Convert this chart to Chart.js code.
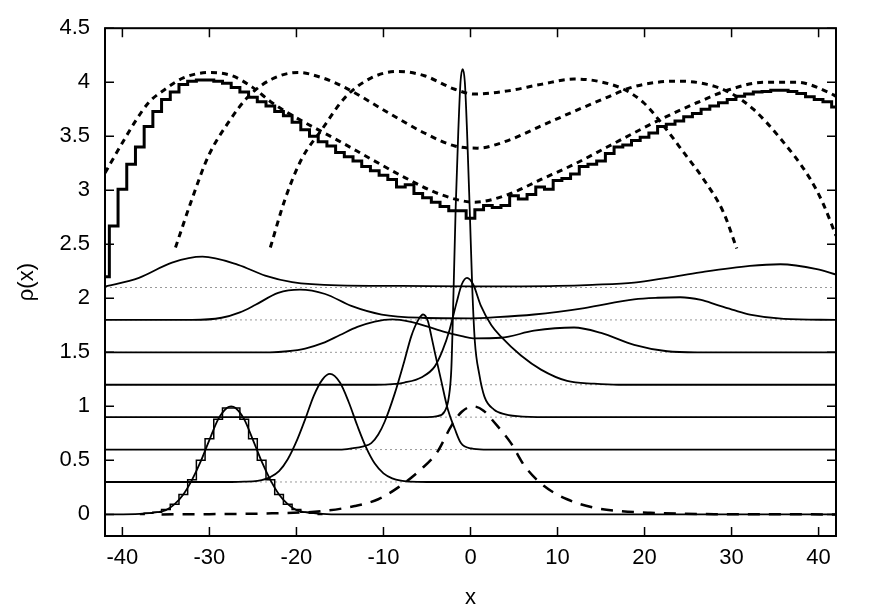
<!DOCTYPE html>
<html>
<head>
<meta charset="utf-8">
<script src="https://cdn.jsdelivr.net/npm/chart.js@4.4.1/dist/chart.umd.min.js"></script>
<style>
  html, body { margin: 0; padding: 0; background: #fff; }
  canvas { display: block; }
</style>
</head>
<body>
<canvas id="chart" width="880" height="615"></canvas>
<script>
// axis ticks
const xTicks = [-40, -30, -20, -10, 0, 10, 20, 30, 40];
const yTicks = [0, 0.5, 1, 1.5, 2, 2.5, 3, 3.5, 4, 4.5];

// thick histogram, bins of width 1 centred on -42 .. 42
const histX = [-42, -41, -40, -39, -38, -37, -36, -35, -34, -33, -32, -31, -30, -29, -28, -27, -26, -25, -24, -23, -22,
  -21, -20, -19, -18, -17, -16, -15, -14, -13, -12, -11, -10, -9, -8, -7, -6, -5, -4, -3, -2, -1, 0,
  1, 2, 3, 4, 5, 6, 7, 8, 9, 10, 11, 12, 13, 14, 15, 16, 17, 18, 19, 20, 21,
  22, 23, 24, 25, 26, 27, 28, 29, 30, 31, 32, 33, 34, 35, 36, 37, 38, 39, 40, 41, 42];
const histY = [2.20, 2.67, 3.01, 3.24, 3.40, 3.59, 3.73, 3.84, 3.91, 3.98, 4.01, 4.02, 4.02, 4.01, 3.99, 3.95, 3.91, 3.86, 3.82, 3.78, 3.73,
  3.69, 3.63, 3.56, 3.50, 3.45, 3.41, 3.35, 3.31, 3.27, 3.22, 3.18, 3.14, 3.10, 3.03, 3.05, 2.97, 2.93, 2.89, 2.85, 2.81, 2.81, 2.74,
  2.82, 2.86, 2.84, 2.86, 2.95, 2.92, 2.96, 3.03, 3.01, 3.09, 3.11, 3.15, 3.22, 3.24, 3.27, 3.34, 3.40, 3.42, 3.46, 3.49, 3.53,
  3.59, 3.61, 3.64, 3.68, 3.71, 3.75, 3.78, 3.81, 3.84, 3.87, 3.89, 3.91, 3.915, 3.925, 3.925, 3.915, 3.895, 3.865, 3.84, 3.82, 3.77];

// dotted curves
const d1X = [-42, -40, -38.5, -37, -35, -33, -30, -27.4, -25, -22.8, -20.2, -15.2, -11, -7.6, -3.4, 0.5, 4.3, 8.1, 11.9, 15.7, 19.6, 22.2, 26, 29.9, 33.7, 37.5, 41.3, 42];
const d1Y = [3.16, 3.44, 3.64, 3.81, 3.94, 4.04, 4.09, 4.06, 3.95, 3.81, 3.68, 3.46, 3.27, 3.12, 2.96, 2.89, 2.96, 3.10, 3.24, 3.40, 3.565, 3.67, 3.81, 3.935, 4.0, 4.0, 3.90, 3.87];
const d2X = [-33.9, -32, -30.1, -27.8, -25.5, -22.8, -19.8, -17, -14.4, -9.5, -5.3, -1.8, 0.8, 4.3, 8.1, 11.9, 15.7, 18.4, 21.5, 24.1, 27.2, 29.9, 32.5, 35.6, 39, 40.5, 42];
const d2Y = [2.47, 2.92, 3.32, 3.63, 3.87, 4.03, 4.09, 4.04, 3.95, 3.72, 3.53, 3.41, 3.39, 3.46, 3.595, 3.73, 3.86, 3.95, 4.0, 4.01, 3.98, 3.90, 3.75, 3.48, 3.11, 2.88, 2.58];
const d3X = [-23, -21.3, -19.4, -17.1, -14.4, -11.4, -8.3, -5.3, -1.8, 0.5, 4.3, 8.1, 11.9, 14.6, 17.6, 19.9, 22.2, 24.5, 26.8, 29.1, 30.6];
const d3Y = [2.47, 2.92, 3.29, 3.56, 3.86, 4.04, 4.10, 4.06, 3.935, 3.89, 3.92, 3.98, 4.03, 4.01, 3.935, 3.81, 3.595, 3.35, 3.10, 2.79, 2.46];

// stacked profiles (offsets 0, 0.3, ..., 2.1)
const offsets = [0.3, 0.6, 0.9, 1.2, 1.5, 1.8, 2.1];
const p0X = [-42, -38, -36, -35, -34, -33, -32, -31, -30, -29, -28, -27.5, -27, -26, -25, -24, -23, -22, -21, -20, -19, -17, -15, 42];
const p0Y = [0, 0.005, 0.02, 0.04, 0.095, 0.185, 0.32, 0.49, 0.69, 0.88, 0.985, 1.0, 0.985, 0.88, 0.69, 0.49, 0.32, 0.185, 0.095, 0.04, 0.02, 0.005, 0, 0];
const p3X = [-42, -28, -26, -25, -24, -23, -22, -21, -20, -19, -18, -17, -16.15, -15, -14, -13, -12, -11, -10, -9, -8, -7, -5, 42];
const p3Y = [0.3, 0.3, 0.303, 0.305, 0.317, 0.345, 0.40, 0.51, 0.675, 0.88, 1.10, 1.25, 1.30, 1.22, 1.04, 0.82, 0.62, 0.47, 0.38, 0.334, 0.312, 0.304, 0.3, 0.3];
const p6X = [-42, -15, -13.7, -12.3, -11.4, -10.6, -9.85, -8.7, -7.6, -6.8, -6.0, -5.45, -4.9, -4.5, -4.1, -3.4, -2.6, -1.8, -1.1, 0.1, 1.5, 42];
const p6Y = [0.6, 0.6, 0.61, 0.63, 0.66, 0.74, 0.86, 1.12, 1.42, 1.65, 1.80, 1.85, 1.79, 1.65, 1.50, 1.25, 0.97, 0.79, 0.66, 0.61, 0.6, 0.6];
const p9X = [-42, -5, -3.8, -3.0, -2.5, -2.2, -2.0, -1.7, -1.4, -1.15, -0.9, -0.65, -0.4, -0.1, 0.2, 0.5, 1.0, 1.6, 2.7, 4, 6, 10, 42];
const p9Y = [0.9, 0.9, 0.91, 0.95, 1.08, 1.35, 1.9, 2.85, 3.55, 4.0, 4.12, 4.0, 3.55, 2.85, 2.1, 1.6, 1.3, 1.09, 0.97, 0.925, 0.905, 0.9, 0.9];
const p12X = [-42, -11, -9, -7.6, -5.6, -4.1, -3.2, -2.4, -1.6, -1.0, -0.4, 0.3, 1.2, 2.4, 3.5, 5.8, 8.1, 11.1, 14.2, 17, 42];
const p12Y = [1.2, 1.2, 1.205, 1.22, 1.27, 1.37, 1.52, 1.71, 1.96, 2.13, 2.19, 2.13, 1.93, 1.75, 1.645, 1.47, 1.34, 1.235, 1.21, 1.2, 1.2];
const p15X = [-42, -23, -21, -19, -17, -15, -13, -11, -9, -7, -5, -3, -1, 0.3, 3.5, 7.3, 11.9, 15, 18.8, 22.6, 26, 42];
const p15Y = [1.5, 1.5, 1.51, 1.535, 1.585, 1.66, 1.735, 1.785, 1.805, 1.785, 1.74, 1.69, 1.65, 1.63, 1.635, 1.70, 1.73, 1.68, 1.57, 1.51, 1.5, 1.5];
const p18X = [-42, -32, -28.6, -26.5, -24.7, -22.1, -19.6, -16.7, -13.7, -10.2, -5.6, 0, 3, 7.3, 13.1, 18.8, 21.5, 24.1, 26.5, 28.3, 30.3, 32.1, 36, 42];
const p18Y = [1.80, 1.80, 1.82, 1.87, 1.94, 2.05, 2.08, 2.04, 1.93, 1.85, 1.82, 1.815, 1.825, 1.85, 1.91, 1.99, 2.005, 2.01, 1.985, 1.94, 1.89, 1.85, 1.81, 1.80];
const p21X = [-42, -41.4, -38.1, -34.3, -30.8, -26.7, -23.6, -20.5, -15.2, -8, 0, 10, 14, 18.8, 22.6, 26.4, 32.1, 35.6, 39.8, 42];
const p21Y = [2.11, 2.12, 2.19, 2.33, 2.385, 2.31, 2.21, 2.15, 2.12, 2.115, 2.11, 2.115, 2.125, 2.145, 2.19, 2.24, 2.30, 2.315, 2.27, 2.22];

// thin histogram over the first profile
const smallHistX = [-38, -37, -36, -35, -34, -33, -32, -31, -30, -29, -28, -27, -26, -25, -24, -23, -22, -21, -20, -19, -18, -17];
const smallHistY = [0, 0.01, 0.02, 0.045, 0.095, 0.185, 0.32, 0.50, 0.70, 0.88, 0.985, 0.985, 0.88, 0.70, 0.50, 0.32, 0.185, 0.095, 0.045, 0.02, 0.01, 0];

// long dashed curve
const dashX = [-35.5, -30, -22.8, -17.1, -13.3, -10.6, -8.3, -5.65, -3.8, -2.2, -1, 0.3, 1.5, 2.75, 4.65, 6.2, 8.5, 11.1, 14.2, 17.3, 20.7, 27, 42];
const dashY = [0, 0.002, 0.01, 0.03, 0.077, 0.14, 0.25, 0.42, 0.58, 0.82, 0.95, 1.0, 0.96, 0.85, 0.66, 0.45, 0.26, 0.14, 0.062, 0.03, 0.015, 0.003, 0];

const pts = (xs, ys) => xs.map((x, i) => ({ x: x, y: ys[i] }));

const solid = (xs, ys) => ({
  data: pts(xs, ys),
  borderColor: '#000',
  borderWidth: 1.8,
  cubicInterpolationMode: 'monotone'
});

const dotted = (xs, ys) => ({
  data: pts(xs, ys),
  borderColor: '#000',
  borderWidth: 3,
  borderDash: [6, 5],
  cubicInterpolationMode: 'monotone'
});

const datasets = [
  { data: pts(histX, histY), borderColor: '#000', borderWidth: 3, stepped: 'middle' },
  dotted(d1X, d1Y),
  dotted(d2X, d2Y),
  dotted(d3X, d3Y),
  solid(p0X, p0Y),
  solid(p3X, p3Y),
  solid(p6X, p6Y),
  solid(p9X, p9Y),
  solid(p12X, p12Y),
  solid(p15X, p15Y),
  solid(p18X, p18Y),
  solid(p21X, p21Y),
  { data: pts(smallHistX, smallHistY), borderColor: '#000', borderWidth: 1.5, stepped: 'middle' },
  { data: pts(dashX, dashY), borderColor: '#000', borderWidth: 2.5, borderDash: [12, 9], cubicInterpolationMode: 'monotone' }
];

// thin grey dotted base lines, drawn beneath everything
offsets.forEach(off => {
  datasets.push({
    data: [{ x: -42, y: off }, { x: 42, y: off }],
    borderColor: '#999',
    borderWidth: 1,
    borderDash: [2, 3],
    order: 10
  });
});

// frame and inward tick marks on all four sides
const frameTicks = {
  id: 'frameTicks',
  afterDatasetsDraw(chart) {
    const { ctx, chartArea: a, scales: { x, y } } = chart;
    const len = 9;
    ctx.save();
    ctx.strokeStyle = '#000';
    ctx.lineWidth = 1.5;
    ctx.beginPath();
    x.ticks.forEach(t => {
      const px = x.getPixelForValue(t.value);
      ctx.moveTo(px, a.bottom); ctx.lineTo(px, a.bottom - len);
      ctx.moveTo(px, a.top); ctx.lineTo(px, a.top + len);
    });
    y.ticks.forEach(t => {
      const py = y.getPixelForValue(t.value);
      ctx.moveTo(a.left, py); ctx.lineTo(a.left + len, py);
      ctx.moveTo(a.right, py); ctx.lineTo(a.right - len, py);
    });
    ctx.stroke();
    ctx.lineWidth = 2;
    ctx.strokeRect(a.left, a.top, a.right - a.left, a.bottom - a.top);
    ctx.restore();
  }
};

const labelFont = { family: '"Liberation Sans", Arial, Helvetica, sans-serif', size: 22 };
Chart.defaults.color = '#000';

new Chart(document.getElementById('chart'), {
  type: 'scatter',
  data: { datasets: datasets },
  options: {
    responsive: false,
    animation: false,
    showLine: true,
    layout: { padding: { left: 0, right: 44, top: 28, bottom: 4 } },
    elements: { point: { radius: 0, hoverRadius: 0 }, line: { tension: 0, fill: false } },
    plugins: { legend: { display: false }, tooltip: { enabled: false } },
    scales: {
      x: {
        type: 'linear',
        min: -42,
        max: 42,
        afterBuildTicks: scale => { scale.ticks = xTicks.map(v => ({ value: v })); },
        afterFit: scale => { scale.height = 75; },
        grid: { display: false, drawTicks: false },
        border: { display: false },
        ticks: { padding: 9, maxRotation: 0, font: labelFont, callback: v => String(v) },
        title: { display: true, text: 'x', font: labelFont, padding: { top: 0, bottom: 0 } }
      },
      y: {
        type: 'linear',
        min: -0.2,
        max: 4.5,
        afterBuildTicks: scale => { scale.ticks = yTicks.map(v => ({ value: v })); },
        afterFit: scale => { scale.width = 105; },
        grid: { display: false, drawTicks: false },
        border: { display: false },
        ticks: { padding: 15, font: labelFont, callback: v => String(v) },
        title: { display: true, text: 'ρ(x)', font: labelFont, padding: { top: 14, bottom: 0 } }
      }
    }
  },
  plugins: [frameTicks]
});
</script>
</body>
</html>
